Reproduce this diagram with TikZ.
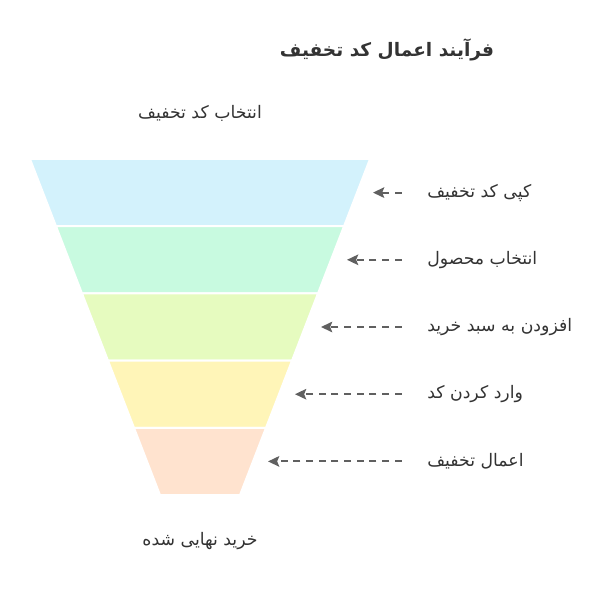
\documentclass[tikz,border=0pt]{standalone}
\usepackage{xcolor}
\usepackage{fontspec}
\usepackage{tikz}
\usetikzlibrary{arrows.meta,positioning}
\TeXXeTstate=1
\newfontfamily\arabicfont[Script=Arabic]{DejaVu Sans}

\definecolor{layerA}{HTML}{D3F2FC}
\definecolor{layerB}{HTML}{C8FAE0}
\definecolor{layerC}{HTML}{E6FBBF}
\definecolor{layerD}{HTML}{FFF5B8}
\definecolor{layerE}{HTML}{FFE3CF}
\definecolor{textgray}{HTML}{333333}
\definecolor{arrowgray}{HTML}{606060}

\tikzset{
    layer/.style={draw=white, line width=1.4pt},
    steplabel/.style={font=\arabicfont\fontsize{12.3}{14}\selectfont, text=textgray, anchor=west, inner sep=0pt},
    endlabel/.style={font=\arabicfont\fontsize{12.3}{14}\selectfont, text=textgray, inner sep=0pt},
    hint/.style={draw=arrowgray, line width=1.3pt, dash pattern=on 5pt off 4pt, shorten <=18pt,
        -{Stealth[length=8pt, width=7.5pt, inset=1.5pt]}},
}

\begin{document}
\begin{tikzpicture}[x=0.025cm, y=-0.025cm]
                \useasboundingbox (0,0) rectangle (600,600);

                \node[
                    font=\arabicfont\bfseries\fontsize{13.2}{15}\selectfont,
                    text=textgray,
                    inner sep=0pt
                ] (title) at (387,50) {\beginR فرآیند اعمال کد تخفیف\endR};

                \node[endlabel] (start) at (200,113) {\beginR انتخاب کد تخفیف\endR};
                \node[endlabel] (finish) at (200,541) {\beginR خرید نهایی شده\endR};

                % funnel layers
                \draw[layer, fill=layerA] (30,159) -- (370,159) -- (344,226.2) -- (56,226.2) -- cycle;
                \draw[layer, fill=layerB] (56,226.2) -- (344,226.2) -- (318,293.4) -- (82,293.4) -- cycle;
                \draw[layer, fill=layerC] (82,293.4) -- (318,293.4) -- (292,360.6) -- (108,360.6) -- cycle;
                \draw[layer, fill=layerD] (108,360.6) -- (292,360.6) -- (266,427.8) -- (134,427.8) -- cycle;
                \draw[layer, fill=layerE] (134,427.8) -- (266,427.8) -- (240,495) -- (160,495) -- cycle;

                % step labels
                \node[steplabel] (copycode) at (427,192.6) {\beginR کپی کد تخفیف\endR};
                \node[steplabel] (product) at (427,259.8) {\beginR انتخاب محصول\endR};
                \node[steplabel] (addcart) at (427,327) {\beginR افزودن به سبد خرید\endR};
                \node[steplabel] (entercode) at (427,394.2) {\beginR وارد کردن کد\endR};
                \node[steplabel] (apply) at (427,461.4) {\beginR اعمال تخفیف\endR};

                \coordinate (copytip) at (373,192.6);
                \coordinate (producttip) at (347,259.8);
                \coordinate (addcarttip) at (321,327);
                \coordinate (entercodetip) at (295,394.2);
                \coordinate (applytip) at (268,461.4);

                \draw[hint] (copycode.west) -- (copytip);
                \draw[hint] (product.west) -- (producttip);
                \draw[hint] (addcart.west) -- (addcarttip);
                \draw[hint] (entercode.west) -- (entercodetip);
                \draw[hint] (apply.west) -- (applytip);

            \end{tikzpicture}
\end{document}
